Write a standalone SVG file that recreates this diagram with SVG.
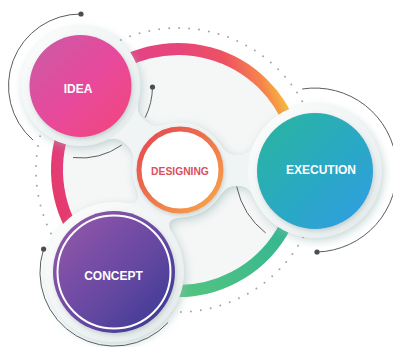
<svg xmlns="http://www.w3.org/2000/svg" width="393" height="347" viewBox="0 0 393 347">
  <defs>
    <style>
      .label { font-family: "Liberation Sans", Arial, sans-serif; font-weight: bold; text-anchor: middle; }
      .white { fill: #ffffff; font-size: 12px; }
      .accent { fill: none; stroke: #5a5e60; stroke-width: 1; }
      .pin { fill: #4a4e50; }
      .halo { fill: url(#haloGrad); }
    </style>
    <linearGradient id="ringWarm" gradientUnits="userSpaceOnUse" x1="40" y1="200" x2="300" y2="110">
      <stop offset="0" stop-color="#e8385e"/>
      <stop offset="0.12" stop-color="#e33d7a"/>
      <stop offset="0.38" stop-color="#e2428c"/>
      <stop offset="0.66" stop-color="#e7457a"/>
      <stop offset="0.8" stop-color="#ee5162"/>
      <stop offset="0.9" stop-color="#f5834c"/>
      <stop offset="0.97" stop-color="#f8c13c"/>
    </linearGradient>
    <linearGradient id="ringCool" gradientUnits="userSpaceOnUse" x1="170" y1="300" x2="295" y2="200">
      <stop offset="0" stop-color="#55c67d"/>
      <stop offset="1" stop-color="#2fb396"/>
    </linearGradient>
    <linearGradient id="ideaGrad" x1="0" y1="0" x2="1" y2="1">
      <stop offset="0" stop-color="#c95ca6"/>
      <stop offset="0.55" stop-color="#e9489a"/>
      <stop offset="1" stop-color="#f2467a"/>
    </linearGradient>
    <linearGradient id="execGrad" x1="0" y1="0" x2="1" y2="1">
      <stop offset="0" stop-color="#27b69c"/>
      <stop offset="1" stop-color="#2f9de6"/>
    </linearGradient>
    <linearGradient id="conceptGrad" x1="0" y1="0" x2="1" y2="1">
      <stop offset="0" stop-color="#9859ab"/>
      <stop offset="0.5" stop-color="#6c4aa3"/>
      <stop offset="1" stop-color="#353892"/>
    </linearGradient>
    <linearGradient id="designGrad" x1="0" y1="0" x2="1" y2="1">
      <stop offset="0" stop-color="#e64450"/>
      <stop offset="1" stop-color="#f8a84a"/>
    </linearGradient>
    <linearGradient id="haloGrad" x1="0" y1="0" x2="1" y2="1">
      <stop offset="0" stop-color="#fdfefe"/>
      <stop offset="0.5" stop-color="#f1f4f4"/>
      <stop offset="1" stop-color="#e2e9e9"/>
    </linearGradient>
    <!-- merges the pads and necks into one soft raised surface -->
    <filter id="goo" filterUnits="userSpaceOnUse" x="-20" y="-20" width="440" height="400" color-interpolation-filters="sRGB">
      <feGaussianBlur in="SourceGraphic" stdDeviation="7" result="b"/>
      <feColorMatrix in="b" type="matrix" values="0 0 0 0 0.945  0 0 0 0 0.955  0 0 0 0 0.955  0 0 0 25 -12" result="g"/>
      <feGaussianBlur in="g" stdDeviation="4" result="sb"/>
      <feOffset in="sb" dx="2" dy="3" result="so"/>
      <feFlood flood-color="#98b8b8" flood-opacity="0.55"/>
      <feComposite in2="so" operator="in" result="sh"/>
      <feMerge><feMergeNode in="sh"/><feMergeNode in="g"/></feMerge>
    </filter>
    <filter id="soft" x="-20%" y="-20%" width="140%" height="140%">
      <feDropShadow dx="1" dy="2" stdDeviation="2" flood-color="#7a9090" flood-opacity="0.35"/>
    </filter>
  </defs>

  <rect width="393" height="347" fill="#ffffff"/>

  <!-- backdrop: dotted orbit and pale inner disc -->
  <g id="backdrop">
    <circle cx="178" cy="170" r="142" fill="none" stroke="#a3a6a8" stroke-width="2" stroke-linecap="round" stroke-dasharray="0 10"/>
    <circle cx="178" cy="170" r="115" fill="#f5f6f6"/>
  </g>

  <g id="connectors">
    <!-- coloured cycle ring -->
    <path d="M117.5 274.79 A121 121 0 1 1 291.7 128.62" fill="none" stroke="url(#ringWarm)" stroke-width="12"/>
    <path d="M299 170 A121 121 0 0 1 108.6 269.12" fill="none" stroke="url(#ringCool)" stroke-width="12"/>
    <!-- raised pads joined to the centre by necks -->
    <g filter="url(#goo)" fill="#f0f3f3" stroke="#f0f3f3">
      <circle cx="80.5" cy="86" r="60" stroke="none"/>
      <circle cx="315" cy="171" r="67" stroke="none"/>
      <circle cx="114" cy="272" r="70" stroke="none"/>
      <circle cx="180" cy="170" r="48" stroke="none"/>
      <line x1="180" y1="170" x2="80.5" y2="86" stroke-width="30"/>
      <line x1="180" y1="170" x2="315" y2="171" stroke-width="30"/>
      <line x1="180" y1="170" x2="114" y2="272" stroke-width="30"/>
    </g>
  </g>

  <!-- thin orbit accents -->
  <g id="accents">
    <path class="accent" d="M33 140.1 A72 72 0 0 1 81 14"/>
    <circle class="pin" cx="81" cy="14" r="2.6"/>
    <path class="accent" d="M152.5 87 A72 72 0 0 1 145.2 117.6"/>
    <circle class="pin" cx="152.5" cy="87" r="2.6"/>
    <path class="accent" d="M121.8 145 A72 72 0 0 1 73 157.6"/>
    <path class="accent" d="M302.2 89 A82 82 0 1 1 317 252"/>
    <circle class="pin" cx="317" cy="252" r="2.6"/>
    <path class="accent" d="M265.7 233 A80 80 0 0 1 236.7 186.6"/>
    <path class="accent" d="M168.1 322.5 A74 74 0 0 1 43.6 249.1"/>
    <circle class="pin" cx="43.6" cy="249.1" r="2.6"/>
  </g>

  <g id="idea">
    <circle class="halo" cx="80.5" cy="86" r="60"/>
    <circle cx="80.5" cy="86" r="51" fill="url(#ideaGrad)" filter="url(#soft)"/>
    <text class="label white" x="78" y="93">IDEA</text>
  </g>

  <g id="execution">
    <circle class="halo" cx="315" cy="171" r="67"/>
    <circle cx="315" cy="171" r="58" fill="url(#execGrad)" filter="url(#soft)"/>
    <text class="label white" x="321" y="174">EXECUTION</text>
  </g>

  <g id="concept">
    <circle class="halo" cx="114" cy="272" r="70"/>
    <circle cx="114" cy="272" r="61" fill="url(#conceptGrad)" filter="url(#soft)"/>
    <circle cx="114" cy="272" r="56.5" fill="none" stroke="#ffffff" stroke-width="2"/>
    <text class="label white" x="113.5" y="280">CONCEPT</text>
  </g>

  <g id="designing">
    <circle cx="180" cy="170" r="41" fill="#ffffff" stroke="url(#designGrad)" stroke-width="5" filter="url(#soft)"/>
    <text class="label" x="180" y="175" font-size="10.3" fill="#dc4f5c">DESIGNING</text>
  </g>
</svg>
